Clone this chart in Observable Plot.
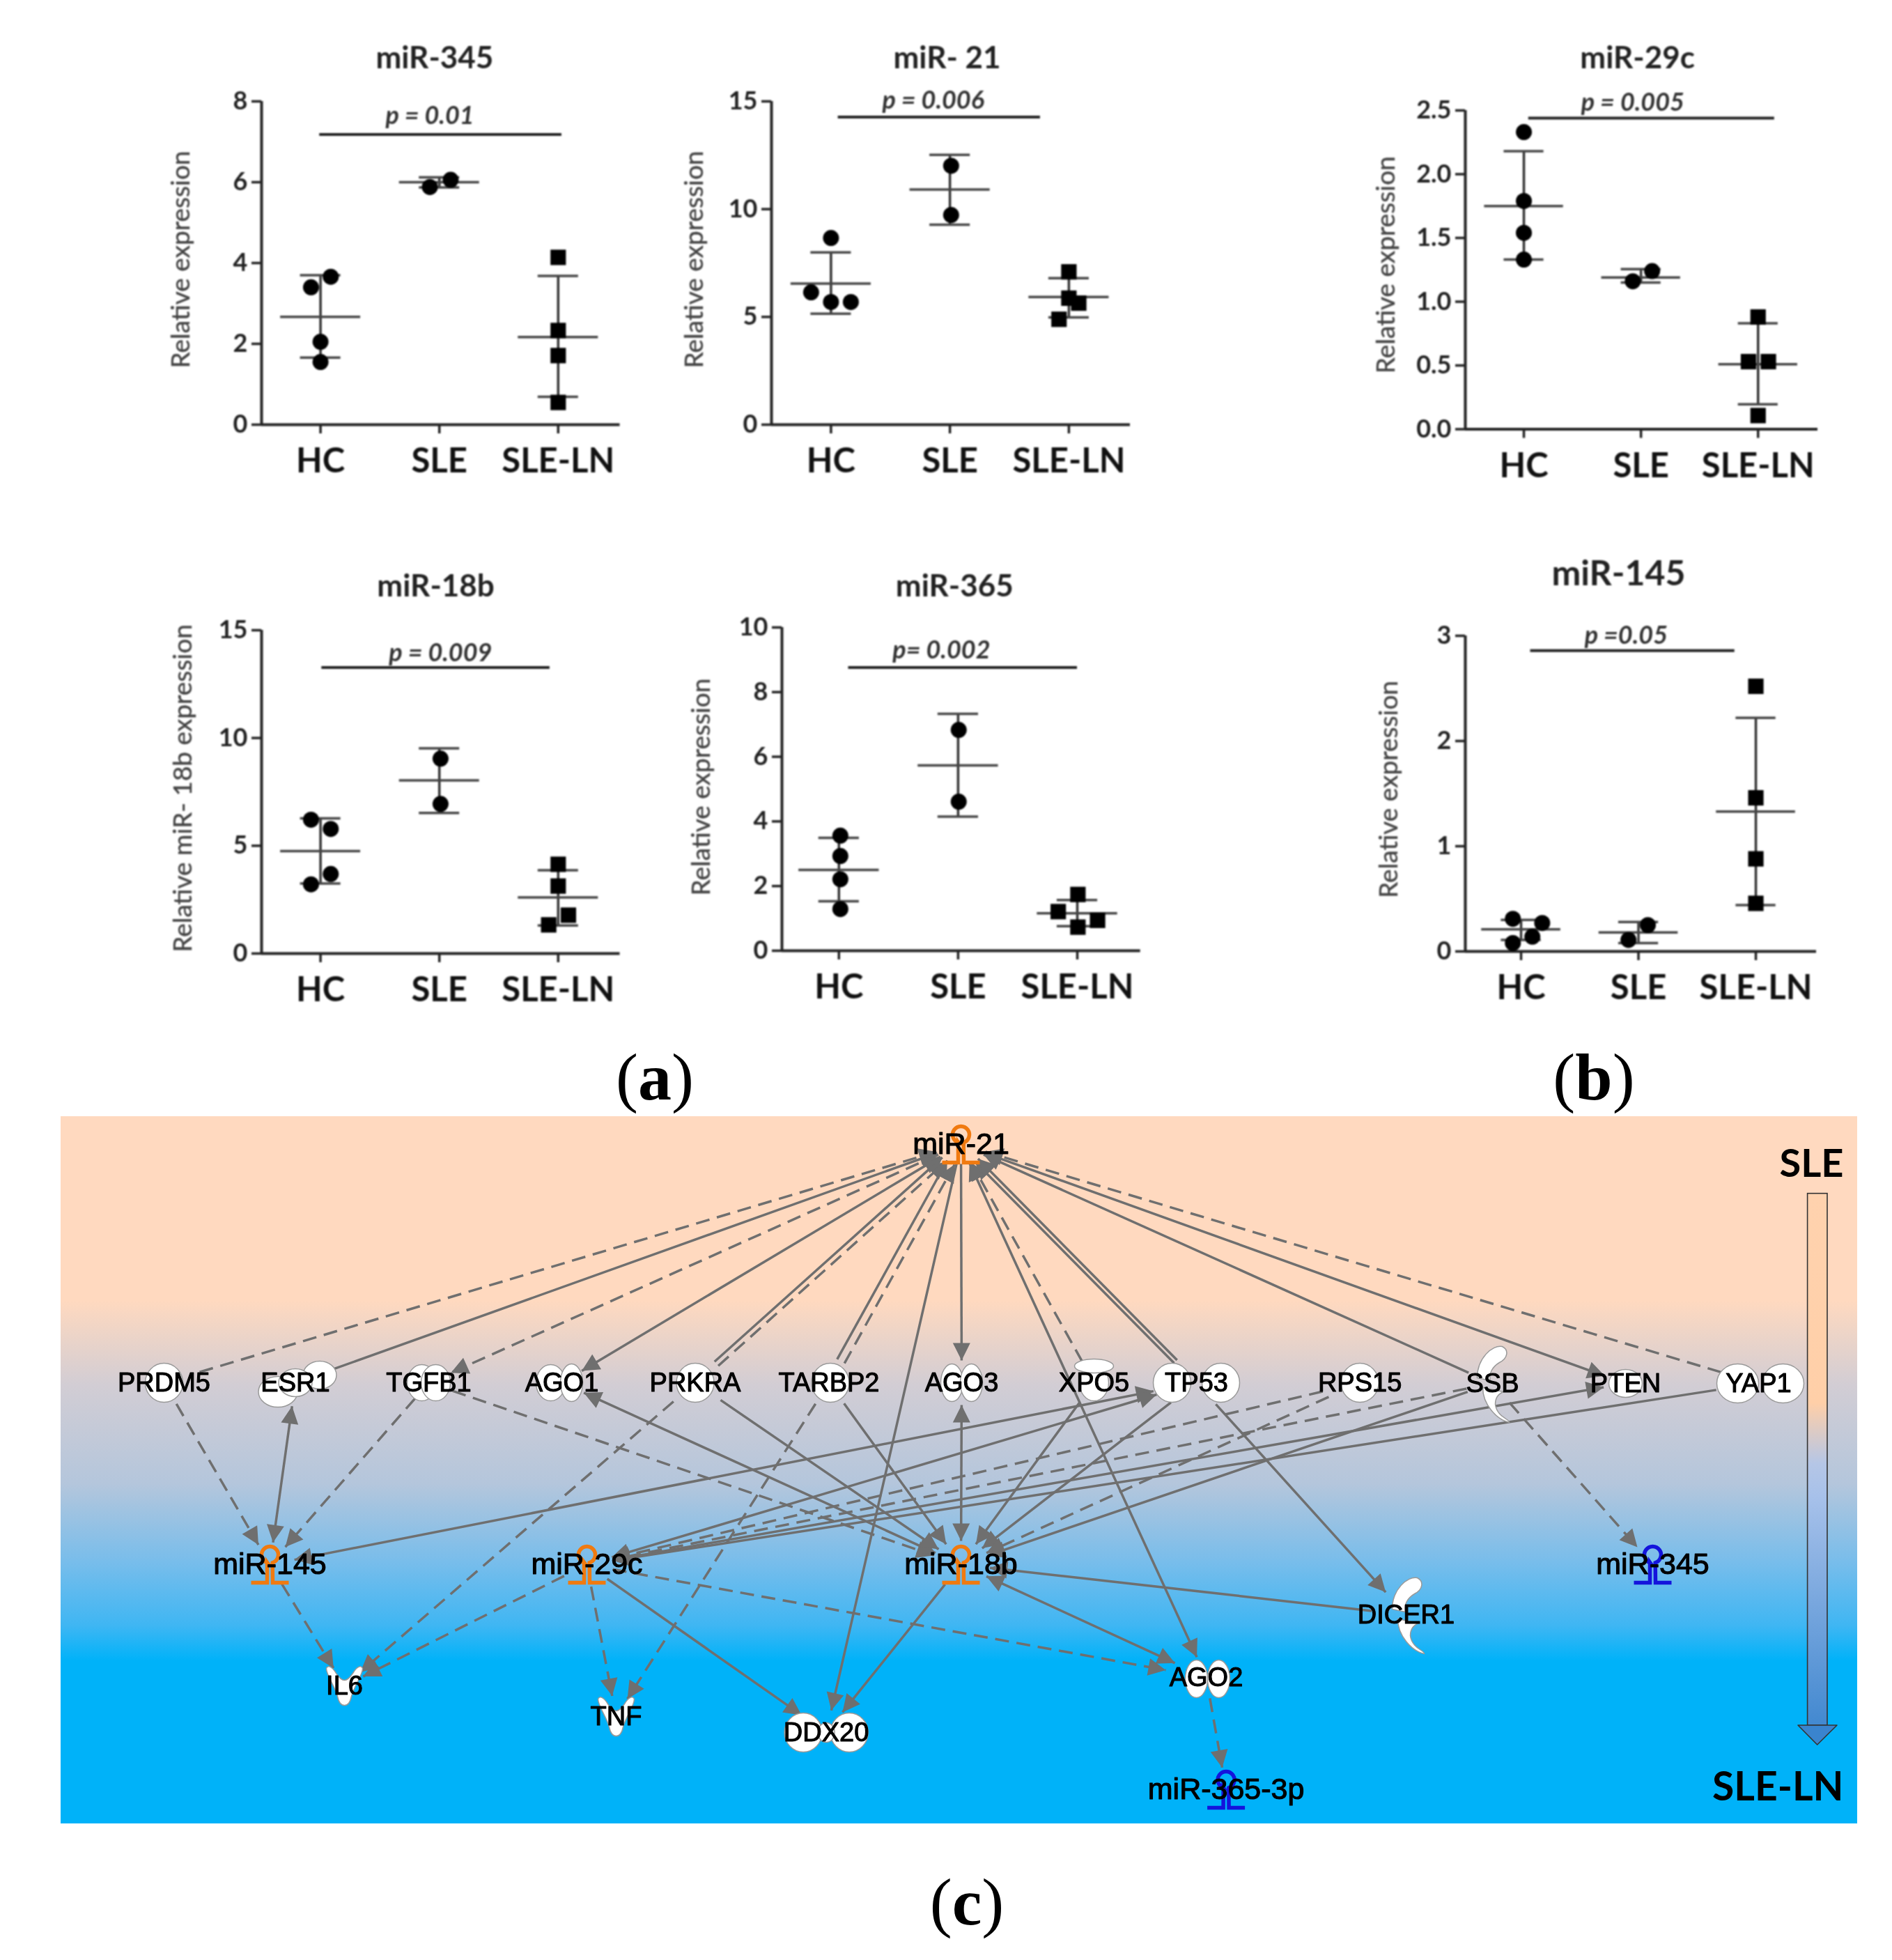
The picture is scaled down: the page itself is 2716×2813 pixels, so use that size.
<!DOCTYPE html>
<html>
<head>
<meta charset="utf-8">
<script src="https://cdn.jsdelivr.net/npm/d3@7"></script>
<script src="https://cdn.jsdelivr.net/npm/@observablehq/plot@0.6"></script>
<style>
html,body{margin:0;padding:0;background:#fff}
#page{position:relative;width:2716px;height:2813px;overflow:hidden;background:#fff}
#page svg{position:absolute;max-width:none;overflow:visible}
.tag{position:absolute;font-family:"Liberation Serif",serif;font-size:96px;line-height:1;color:#000;transform:translateX(-50%);white-space:nowrap}
</style>
</head>
<body>
<div id="page"></div>
<script>
const groups = ["HC", "SLE", "SLE-LN"];

// Panel values: [HC, SLE, SLE-LN]
const miR345Values = [[3.40, 3.66, 2.05, 1.55], [5.88, 6.06], [4.14, 2.33, 1.71, 0.55]];
const miR345Spread = [[-0.08, 0.086, 0, 0], [-0.08, 0.095], [0, 0, 0, 0]];
const miR345Mean = [2.67, 6.0, 2.17];
const miR345Upper = [3.70, 6.12, 3.68];
const miR345Lower = [1.66, 5.87, 0.69];

const miR21Values = [[8.66, 6.14, 5.69, 5.69], [12.01, 9.73], [7.09, 5.87, 5.64, 4.89]];
const miR21Spread = [[0, -0.167, 0, 0.167], [0.01, 0.01], [0, 0, 0.083, -0.083]];
const miR21Mean = [6.55, 10.91, 5.92];
const miR21Upper = [7.99, 12.52, 6.80];
const miR21Lower = [5.15, 9.28, 4.98];

const miR29cValues = [[2.33, 1.79, 1.54, 1.33], [1.16, 1.24], [0.88, 0.53, 0.53, 0.107]];
const miR29cSpread = [[0, 0, 0, 0], [-0.07, 0.095], [0, -0.082, 0.088, 0]];
const miR29cMean = [1.75, 1.19, 0.51];
const miR29cUpper = [2.18, 1.256, 0.83];
const miR29cLower = [1.33, 1.15, 0.196];

const miR18bValues = [[6.21, 5.78, 3.69, 3.21], [9.04, 6.94], [4.14, 3.13, 1.78, 1.33]];
const miR18bSpread = [[-0.08, 0.086, 0.086, -0.08], [0.01, 0.01], [0, 0, 0.086, -0.08]];
const miR18bMean = [4.75, 8.03, 2.6];
const miR18bUpper = [6.27, 9.52, 3.86];
const miR18bLower = [3.25, 6.52, 1.30];

const miR365Values = [[3.56, 2.93, 2.21, 1.29], [6.83, 4.61], [1.74, 1.21, 0.94, 0.73]];
const miR365Spread = [[0.012, 0.012, 0.012, 0.012], [0.005, 0.005], [0.005, -0.16, 0.17, 0.005]];
const miR365Mean = [2.50, 5.73, 1.16];
const miR365Upper = [3.49, 7.33, 1.57];
const miR365Lower = [1.53, 4.15, 0.76];

const miR145Values = [[0.31, 0.27, 0.14, 0.08], [0.25, 0.11], [2.52, 1.46, 0.88, 0.457]];
const miR145Spread = [[-0.07, 0.18, 0.096, -0.07], [0.08, -0.085], [0, 0, 0, 0]];
const miR145Mean = [0.21, 0.18, 1.33];
const miR145Upper = [0.30, 0.28, 2.22];
const miR145Lower = [0.11, 0.08, 0.44];

// Network: node names and their place on the diagram's own grid
const nodeNames = ["miR-21","PRDM5","ESR1","TGFB1","AGO1","PRKRA","TARBP2","AGO3","XPO5","TP53","RPS15","SSB","PTEN","YAP1","miR-145","miR-29c","miR-18b","miR-345","DICER1","IL6","TNF","DDX20","AGO2","miR-365-3p"];
const nodeX = [1379,235,423.5,615,806,997.5,1189.5,1380,1570,1717,1951.6,2142,2333,2524,387,842,1379,2372,2018,494,884,1185.6,1731,1759.6];
const nodeY = [1642,1984,1984,1984,1984,1984,1984,1984,1984,1984,1984,1985,1985,1985,2245,2245,2245,2245,2317,2419,2463,2486,2407,2568];
const nodeHalfW = [38,58,52,38,38,58,60,36,50,66,58,38,32,64,36,38,42,35,50,30,30,56,62,40];
const nodeHalfH = [28,32,34,26,26,32,32,32,32,34,32,36,28,30,32,32,34,32,40,30,30,32,30,32];

// Edges: from, to, dashed?, heads ("to" / "both"), side shift for parallel pairs
const edges = [
  ["PRDM5","miR-21",1,"to",0],["ESR1","miR-21",0,"to",0],["miR-21","TGFB1",1,"to",0],["miR-21","AGO1",0,"both",0],
  ["PRKRA","miR-21",0,"to",-4],["PRKRA","miR-21",1,"to",4],["TARBP2","miR-21",0,"to",-6],["TARBP2","miR-21",1,"to",6],
  ["miR-21","AGO3",0,"to",0],["XPO5","miR-21",1,"to",0],["TP53","miR-21",0,"to",-3],["TP53","miR-21",0,"to",3],
  ["SSB","miR-21",0,"to",0],["miR-21","PTEN",0,"to",0],["YAP1","miR-21",1,"to",0],["AGO2","miR-21",0,"both",0],
  ["miR-21","DDX20",0,"to",0],["PRKRA","IL6",1,"to",0],["TARBP2","TNF",1,"to",0],
  ["PRDM5","miR-145",1,"to",0],["ESR1","miR-145",0,"both",0],["TGFB1","miR-145",1,"to",0],
  ["TGFB1","miR-18b",1,"to",0],["AGO1","miR-18b",0,"both",0],["PRKRA","miR-18b",0,"to",0],["TARBP2","miR-18b",0,"to",0],
  ["AGO3","miR-18b",0,"both",0],["XPO5","miR-18b",0,"to",0],["TP53","miR-18b",0,"to",0],["RPS15","miR-18b",1,"to",0],["SSB","miR-18b",0,"to",0],
  ["miR-145","TP53",0,"both",0],["TP53","miR-29c",0,"both",0],["RPS15","miR-29c",1,"to",0],["SSB","miR-29c",1,"to",0],
  ["PTEN","miR-29c",0,"both",0],["YAP1","miR-29c",0,"to",0],
  ["miR-29c","IL6",1,"to",0],["miR-29c","TNF",1,"to",0],["miR-29c","DDX20",0,"to",0],["miR-29c","AGO2",1,"to",0],["miR-145","IL6",1,"to",0],
  ["miR-18b","DDX20",0,"to",0],["miR-18b","AGO2",0,"both",0],["DICER1","miR-18b",0,"to",0],["TP53","DICER1",0,"to",0],
  ["AGO2","miR-365-3p",1,"to",0],["SSB","miR-345",1,"to",0]
];
const upregulated = ["miR-21","miR-145","miR-29c","miR-18b"];
const downregulated = ["miR-345","miR-365-3p"];

// ---- Panels ----
const panels = [
  {title:"miR-345", yLabel:"Relative expression", values:miR345Values, spread:miR345Spread, mean:miR345Mean, upper:miR345Upper, lower:miR345Lower,
   ymax:8, ticks:[0,2,4,6,8], fmt:d3.format("d"), p:"p = 0.01", pX:0.92, pY:7.64, lineY:7.18, line:[-0.008,2.03],
   box:[374.5,145,889,609], xd:[-0.496,2.52], titleX:0.96, titleLift:62, labelLift:115.5, labelDy:-5, titleSize:44},
  {title:"miR- 21", yLabel:"Relative expression", values:miR21Values, spread:miR21Spread, mean:miR21Mean, upper:miR21Upper, lower:miR21Lower,
   ymax:15, ticks:[0,5,10,15], fmt:d3.format("d"), p:"p = 0.006", pX:0.86, pY:15.03, lineY:14.27, line:[0.06,1.76],
   box:[1107,145,1622,609], xd:[-0.50,2.516], titleX:0.976, titleLift:62, labelLift:110.5, labelDy:-5, titleSize:44},
  {title:"miR-29c", yLabel:"Relative expression", values:miR29cValues, spread:miR29cSpread, mean:miR29cMean, upper:miR29cUpper, lower:miR29cLower,
   ymax:2.5, ticks:[0,0.5,1,1.5,2,2.5], fmt:d3.format(".1f"), p:"p = 0.005", pX:0.93, pY:2.56, lineY:2.44, line:[0.04,2.14],
   box:[2103,158,2609,615.5], xd:[-0.5,2.51], titleX:0.97, titleLift:75, labelLift:113, labelDy:-7, titleSize:44},
  {title:"miR-18b", yLabel:"Relative miR- 18b expression", values:miR18bValues, spread:miR18bSpread, mean:miR18bMean, upper:miR18bUpper, lower:miR18bLower,
   ymax:15, ticks:[0,5,10,15], fmt:d3.format("d"), p:"p = 0.009", pX:1.01, pY:13.92, lineY:13.27, line:[0.01,1.93],
   box:[374.5,903.6,889,1367.6], xd:[-0.496,2.52], titleX:0.97, titleLift:62.6, labelLift:112.5, labelDy:-5, titleSize:44},
  {title:"miR-365", yLabel:"Relative expression", values:miR365Values, spread:miR365Spread, mean:miR365Mean, upper:miR365Upper, lower:miR365Lower,
   ymax:10, ticks:[0,2,4,6,8,10], fmt:d3.format("d"), p:"p= 0.002", pX:0.86, pY:9.28, lineY:8.76, line:[0.08,2.0],
   box:[1122.3,899.7,1637,1363.7], xd:[-0.478,2.53], titleX:0.97, titleLift:58.7, labelLift:115.5, labelDy:-3, titleSize:44},
  {title:"miR-145", yLabel:"Relative expression", values:miR145Values, spread:miR145Spread, mean:miR145Mean, upper:miR145Upper, lower:miR145Lower,
   ymax:3, ticks:[0,1,2,3], fmt:d3.format("d"), p:"p =0.05", pX:0.895, pY:3.0, lineY:2.86, line:[0.08,1.82],
   box:[2103,912,2607,1365], xd:[-0.475,2.516], titleX:0.83, titleLift:89, labelLift:109, labelDy:-6, titleSize:50}
];

const page = document.getElementById("page");
const UI = "Lato, sans-serif";

function drawPanel(c) {
  const [l, t, r, b] = c.box;
  const mL = 190, mR = 30, mT = 110, mB = 90;
  const idx = [0, 1, 2];
  const rows = c.values.flatMap((vs, g) => vs.map((v, i) => ({g, x: g + c.spread[g][i], v})));
  const svg = Plot.plot({
    width: r - l + mL + mR, height: b - t + mT + mB,
    marginLeft: mL, marginRight: mR, marginTop: mT, marginBottom: mB,
    style: {fontFamily: UI, background: "transparent", overflow: "visible", filter: "blur(0.9px)"},
    x: {type: "linear", domain: c.xd},
    y: {domain: [0, c.ymax]},
    marks: [
      Plot.ruleY([0], {stroke: "#222", strokeWidth: 4}),
      Plot.ruleX([c.xd[0]], {stroke: "#222", strokeWidth: 4}),
      Plot.axisX({ticks: idx, tickFormat: i => groups[i], tickSize: 13, tickPadding: 21, fontSize: 49, fontWeight: 700, fill: "#111", stroke: "#222", strokeWidth: 3.5, label: null}),
      Plot.axisY({ticks: c.ticks, tickFormat: c.fmt, tickSize: 14, tickPadding: 6, fontSize: 36, fontWeight: 700, fill: "#222", stroke: "#222", strokeWidth: 3.5, label: null}),
      Plot.ruleX(idx, {x: i => i, y1: i => c.lower[i], y2: i => c.upper[i], stroke: "#333", strokeWidth: 3.5}),
      Plot.ruleY(idx, {y: i => c.mean[i], x1: i => i - 0.337, x2: i => i + 0.337, stroke: "#444", strokeWidth: 3.5}),
      Plot.ruleY(idx, {y: i => c.upper[i], x1: i => i - 0.17, x2: i => i + 0.17, stroke: "#444", strokeWidth: 3.5}),
      Plot.ruleY(idx, {y: i => c.lower[i], x1: i => i - 0.17, x2: i => i + 0.17, stroke: "#444", strokeWidth: 3.5}),
      Plot.dot(rows.filter(d => d.g < 2), {x: "x", y: "v", r: 11.5, fill: "#000", stroke: "none"}),
      Plot.dot(rows.filter(d => d.g === 2), {x: "x", y: "v", r: 12.5, symbol: "square", fill: "#000", stroke: "none"}),
      Plot.ruleY([c.lineY], {x1: c.line[0], x2: c.line[1], stroke: "#222", strokeWidth: 4}),
      Plot.text([c.p], {x: c.pX, y: c.pY, text: d => d, fontSize: 36, fontWeight: 700, fontStyle: "italic", fill: "#333"}),
      Plot.text([c.title], {x: c.titleX, frameAnchor: "top", dy: -c.titleLift, text: d => d, fontSize: c.titleSize, fontWeight: 700, fill: "#222", lineAnchor: "middle"}),
      Plot.text([c.yLabel], {frameAnchor: "left", dx: -c.labelLift, dy: c.labelDy, text: d => d, rotate: -90, textAnchor: "middle", lineAnchor: "middle", fontSize: 37, fill: "#444", stroke: "#444", strokeWidth: 0.4})
    ]
  });
  svg.style.left = (l - mL) + "px";
  svg.style.top = (t - mT) + "px";
  page.appendChild(svg);
}
panels.forEach(drawPanel);

// ---- Network ----
const nodes = nodeNames.map((name, i) => ({name, x: nodeX[i], y: nodeY[i], hw: nodeHalfW[i], hh: nodeHalfH[i]}));
const byName = Object.fromEntries(nodes.map(n => [n.name, n]));

function rim(from, to) { // where the straight line leaving "to" towards "from" meets to's outline
  const dx = from.x - to.x, dy = from.y - to.y;
  const k = 1 / Math.hypot(dx / to.hw, dy / to.hh);
  return {x: to.x + k * dx, y: to.y + k * dy};
}
const segs = [], heads = [];
edges.forEach(([a, b, dashed, kind, shift]) => {
  const A = byName[a], B = byName[b];
  const p = rim(B, A), q = rim(A, B);
  const len = Math.hypot(q.x - p.x, q.y - p.y);
  const ux = (q.x - p.x) / len, uy = (q.y - p.y) / len;
  const sx = -uy * shift, sy = ux * shift;
  const s = {x1: p.x + sx, y1: p.y + sy, x2: q.x + sx, y2: q.y + sy, dashed};
  segs.push(s);
  heads.push({x: s.x2, y: s.y2, rot: Math.atan2(ux, -uy) * 180 / Math.PI});
  if (kind === "both") heads.push({x: s.x1, y: s.y1, rot: Math.atan2(-ux, uy) * 180 / Math.PI});
});

// Custom glyphs (all drawn about the node's centre)
const headSym = {draw(c) { c.moveTo(0, 0); c.lineTo(-12.5, 25); c.lineTo(12.5, 25); c.closePath(); }};
const ell = (c, rx, ry) => {
  const k = 0.5523;
  c.moveTo(rx, 0);
  c.bezierCurveTo(rx, ry * k, rx * k, ry, 0, ry);
  c.bezierCurveTo(-rx * k, ry, -rx, ry * k, -rx, 0);
  c.bezierCurveTo(-rx, -ry * k, -rx * k, -ry, 0, -ry);
  c.bezierCurveTo(rx * k, -ry, rx, -ry * k, rx, 0);
  c.closePath();
};
const round = {draw(c) { ell(c, 27, 28); }};
const tall = {draw(c) { ell(c, 16, 27); }};
const midTall = {draw(c) { ell(c, 21, 26); }};
const flat = {draw(c) { ell(c, 28, 22); }};
const big = {draw(c) { ell(c, 30, 28); }};
const small = {draw(c) { ell(c, 24, 20); }};
const vee = {draw(c) {
  c.moveTo(-26, -25);
  c.bezierCurveTo(-24, -30, -18, -28, -12, -18);
  c.bezierCurveTo(-8, -12, -4, -8, 0, -8);
  c.bezierCurveTo(4, -8, 8, -12, 12, -18);
  c.bezierCurveTo(18, -28, 24, -30, 26, -25);
  c.bezierCurveTo(26, -15, 14, 0, 10, 15);
  c.bezierCurveTo(8, 25, 4, 28, 0, 28);
  c.bezierCurveTo(-4, 28, -8, 25, -10, 15);
  c.bezierCurveTo(-14, 0, -26, -15, -26, -25);
  c.closePath();
}};
const crescent = {draw(c) {
  c.moveTo(-22, -8);
  c.bezierCurveTo(-22, -36, 0, -56, 14, -53);
  c.bezierCurveTo(24, -48, 22, -36, 10, -30);
  c.bezierCurveTo(0, -24, -6, -14, -3, -4);
  c.closePath();
  c.moveTo(-14, 6);
  c.bezierCurveTo(-14, 30, 6, 52, 24, 56);
  c.bezierCurveTo(26, 52, 6, 48, 4, 30);
  c.bezierCurveTo(4, 20, 8, 15, 16, 12);
  c.closePath();
}};
const stemLoop = {draw(c) {
  c.moveTo(-27, 26);
  c.lineTo(-4, 26);
  c.lineTo(-4, -3);
  c.arc(0, -14, 12, Math.PI * 0.6, Math.PI * 0.4 + 2 * Math.PI);
  c.lineTo(4, 26);
  c.lineTo(27, 26);
}};

// Node bodies: node, shift on the grid, glyph
const bodies = [
  ["PRDM5",0,0,round],["ESR1",-25,13,flat],["ESR1",35,-11,small],["ESR1",0,0,small],["TGFB1",-10,0,midTall],["TGFB1",10,0,midTall],
  ["AGO1",-16,0,midTall],["AGO1",14,0,tall],["PRKRA",0,0,round],["TARBP2",2,0,round],["AGO3",-14,0,tall],["AGO3",14,0,tall],
  ["XPO5",0,0,midTall],["XPO5",0,-24,{draw(c){ell(c,28,10);}}],["TP53",-35,0,round],["TP53",35,0,round],["RPS15",0,0,round],
  ["SSB",0,0,crescent],["PTEN",0,0,small],["YAP1",-30,0,big],["YAP1",35,0,big],["DICER1",2,0,crescent],
  ["IL6",0,0,vee],["TNF",0,0,vee],["DDX20",-33,0,round],["DDX20",33,0,round],["DDX20",0,0,{draw(c){ell(c,12,14);}}],["AGO2",-14,2,tall],["AGO2",18,2,tall]
].map(([name, dx, dy, sym]) => ({x: byName[name].x + dx, y: byName[name].y + dy, sym}));

const glyphKinds = [...new Set(bodies.map(b => b.sym))];
const band = {x0: 87, x1: 2666, y0: 1602, y1: 2617};
const shaft = [{x1: 2594.6, x2: 2623, y1: 1712.7, y2: 2476}];
const tip = [{y: 2476, x1: 2581, x2: 2637}, {y: 2504, x1: 2608.7, x2: 2608.7}];
const isMir = n => n.name.startsWith("miR");

const defs = () => {
  const ns = "http://www.w3.org/2000/svg";
  const d = document.createElementNS(ns, "defs");
  const g = document.createElementNS(ns, "linearGradient");
  g.setAttribute("id", "sleShaft");
  g.setAttribute("gradientUnits", "userSpaceOnUse");
  g.setAttribute("x1", 0); g.setAttribute("x2", 0);
  g.setAttribute("y1", 1712.7 - band.y0); g.setAttribute("y2", 2504 - band.y0);
  [[0, "#FFD2AE"], [0.38, "#FFCFA8"], [0.49, "#B5C6E6"], [0.55, "#A7C1EA"], [1, "#3A84CE"]].forEach(([o, col]) => {
    const s = document.createElementNS(ns, "stop");
    s.setAttribute("offset", o); s.setAttribute("stop-color", col);
    g.appendChild(s);
  });
  d.appendChild(g);
  return d;
};

const labelStyle = {x: "x", y: "y", text: "name", fontFamily: "Liberation Sans, sans-serif", fill: "#000", stroke: "#000", strokeWidth: 1.1};
const net = Plot.plot({
  width: band.x1 - band.x0, height: band.y1 - band.y0,
  margin: 0,
  x: {domain: [band.x0, band.x1], axis: null},
  y: {domain: [band.y0, band.y1], range: [0, band.y1 - band.y0], axis: null},
  style: {
    overflow: "visible", filter: "blur(0.6px)",
    background: "linear-gradient(to bottom, #FFD9BF 0%, #FFD9BF 26%, #D2CDD4 38%, #B4C6DC 52%, #78BDEB 63%, #3FB6F3 72%, #00B2F9 77%, #00B2F9 100%)"
  },
  marks: [
    defs,
    Plot.link(segs.filter(d => !d.dashed), {x1: "x1", y1: "y1", x2: "x2", y2: "y2", stroke: "#6f6f6f", strokeWidth: 3.5}),
    Plot.link(segs.filter(d => d.dashed), {x1: "x1", y1: "y1", x2: "x2", y2: "y2", stroke: "#6f6f6f", strokeWidth: 3.5, strokeDasharray: "20 11"}),
    Plot.dot(heads, {x: "x", y: "y", rotate: "rot", symbol: headSym, fill: "#6f6f6f", stroke: "none"}),
    ...glyphKinds.map(sym => Plot.dot(bodies.filter(b => b.sym === sym), {x: "x", y: "y", symbol: sym, fill: "#fff", stroke: "#9a9a9a", strokeWidth: 1.5})),
    Plot.dot(nodes.filter(n => upregulated.includes(n.name)), {x: "x", y: "y", symbol: stemLoop, fill: "none", stroke: "#F07A10", strokeWidth: 5.5}),
    Plot.dot(nodes.filter(n => downregulated.includes(n.name)), {x: "x", y: "y", symbol: stemLoop, fill: "none", stroke: "#1414DC", strokeWidth: 5.5}),
    Plot.text(nodes.filter(n => !isMir(n)), {...labelStyle, fontSize: 38}),
    Plot.text(nodes.filter(isMir), {...labelStyle, fontSize: 43}),
    Plot.rect(shaft, {x1: "x1", x2: "x2", y1: "y1", y2: "y2", fill: "url(#sleShaft)", stroke: "#333", strokeWidth: 1.6}),
    Plot.areaX(tip, {y: "y", x1: "x1", x2: "x2", fill: "#3A84CE", stroke: "#333", strokeWidth: 1.6}),
    Plot.text(["SLE"], {x: 2646, y: 1670.5, text: d => d, textAnchor: "end", fontFamily: UI, fontWeight: 700, fontSize: 56, fill: "#000"}),
    Plot.text(["SLE-LN"], {x: 2646, y: 2565, text: d => d, textAnchor: "end", fontFamily: UI, fontWeight: 700, fontSize: 57, fill: "#000"})
  ]
});
net.style.left = band.x0 + "px";
net.style.top = band.y0 + "px";
page.appendChild(net);

// Part letters
[["a", 940, 1498], ["b", 2288, 1498], ["c", 1388, 2682]].forEach(([t, x, y]) => {
  const d = document.createElement("div");
  d.className = "tag";
  d.style.left = x + "px"; d.style.top = y + "px";
  d.append("(");
  const b = document.createElement("b"); b.textContent = t; d.append(b);
  d.append(")");
  page.appendChild(d);
});
</script>
</body>
</html>
